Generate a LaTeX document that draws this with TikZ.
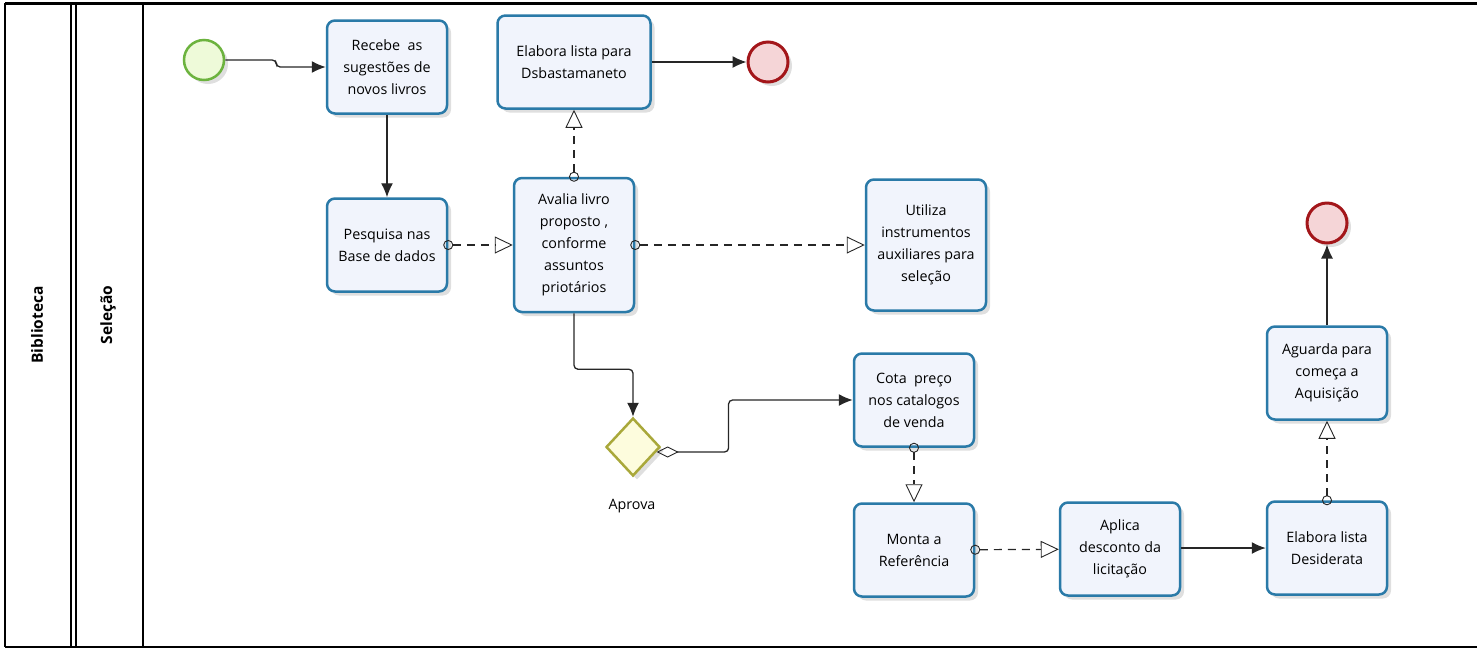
\documentclass[tikz,border=0pt]{standalone}
\usepackage{fontspec}
\setmainfont{Open Sans}
\usetikzlibrary{positioning,shapes.geometric,arrows.meta,shadows}

\definecolor{taskline}{HTML}{2A7AA8}
\definecolor{taskfill}{HTML}{F1F4FC}
\definecolor{startline}{HTML}{6CB33E}
\definecolor{startfill}{HTML}{EEFAD9}
\definecolor{endline}{HTML}{A3161A}
\definecolor{endfill}{HTML}{F5D5D7}
\definecolor{gwline}{HTML}{A9A83A}
\definecolor{gwfill}{HTML}{FDFCDD}

\begin{document}
\begin{tikzpicture}
    [x=1pt,y=-1pt,>=Latex,
     shade/.style={drop shadow={opacity=0.25,shadow xshift=4pt,shadow yshift=-4pt}},
     task/.style={draw=taskline,fill=taskfill,line width=2.5pt,rounded corners=8pt,
                  minimum width=120pt,minimum height=93pt,align=center,shade,
                  font=\fontsize{14.3}{22}\selectfont},
     startev/.style={circle,draw=startline,fill=startfill,line width=2.5pt,minimum size=40pt,shade},
     endev/.style={circle,draw=endline,fill=endfill,line width=3pt,minimum size=40pt,shade},
     gateway/.style={diamond,draw=gwline,fill=gwfill,line width=2.5pt,inner sep=0pt,
                     minimum width=54pt,minimum height=58pt,shade},
     lbl/.style={font=\fontsize{14.3}{16}\selectfont},
     lane/.style={rotate=90,font=\bfseries\fontsize{15.5}{18}\selectfont},
     seq/.style={draw=black!85,line width=1.3pt,rounded corners=4pt,-{Latex[length=14pt,width=12pt]}},
     assoc/.style={draw=black!85,line width=1.2pt,dash pattern=on 8pt off 6pt,shorten <=-5pt,
                   {Circle[open,length=10pt,width=10pt,line width=0.9pt]}-{Triangle[open,length=18pt,width=17pt,line width=0.9pt]}},
     cond/.style={{Diamond[open,length=22pt,width=11pt,line width=0.9pt]}-{Latex[length=14pt,width=12pt]}}]

    \useasboundingbox (0,0) rectangle (1477,649);

    % pool and lane
    \draw[line width=3pt] (5,3) -- (1477,3);
    \draw[line width=2pt] (5,647) -- (1477,647);
    \draw[line width=1.5pt] (5,3) -- (5,647);
    \draw[line width=1.5pt] (71,3) -- (71,647);
    \draw[line width=1.5pt] (76,3) -- (76,647);
    \draw[line width=1.5pt] (143,3) -- (143,647);
    \node[lane] (pool) at (37,325) {Biblioteca};
    \node[lane] (sel) at (108,315) {Seleção};

    % events, tasks, gateway
    \node[startev] (start) at (204,60) {};
    \node[task] (rec) at (387,67) {Recebe~ as\\sugestões de\\novos livros};
    \node[task,minimum width=153pt] (dsb) at (574,62) {Elabora lista para\\Dsbastamaneto};
    \node[endev] (end1) at (768,62) {};
    \node[task] (pesq) at (387,245) {Pesquisa nas\\Base de dados};
    \node[task,minimum height=134pt] (aval) at (574,245) {Avalia livro\\proposto ,\\conforme\\assuntos\\priotários};
    \node[task,minimum height=131pt] (util) at (926,245) {Utiliza\\instrumentos\\auxiliares para\\seleção};
    \node[gateway] (gw) at (633,447) {};
    \node[lbl] (aprova) at (632,506) {Aprova};
    \node[task] (cota) at (914,400) {Cota~ preço\\nos catalogos\\de venda};
    \node[task] (monta) at (914,550) {Monta a\\Referência};
    \node[task] (aplica) at (1120,549) {Aplica\\desconto da\\licitação};
    \node[task] (desid) at (1327,548) {Elabora lista\\Desiderata};
    \node[task] (agu) at (1327,373) {Aguarda para\\começa a\\Aquisição};
    \node[endev] (end2) at (1327,223) {};

    % flows
    \draw[seq] (start.east) -- ++(51,0) |- (rec.west);
    \draw[seq] (rec) -- (pesq);
    \draw[assoc] (pesq) -- (aval);
    \draw[assoc] (aval) -- (dsb);
    \draw[seq] (dsb) -- (end1);
    \draw[assoc] (aval) -- (util);
    \draw[seq] (aval.south) -- ++(0,56) -| (gw.north);
    \draw[seq,cond] (gw.-12) -- ++(72,0) |- (cota.west);
    \draw[assoc] (cota) -- (monta);
    \draw[assoc] (monta) -- (aplica);
    \draw[seq] (aplica.east |- desid) -- (desid.west);
    \draw[assoc] (desid) -- (agu);
    \draw[seq] (agu) -- (end2);

\end{tikzpicture}
\end{document}
